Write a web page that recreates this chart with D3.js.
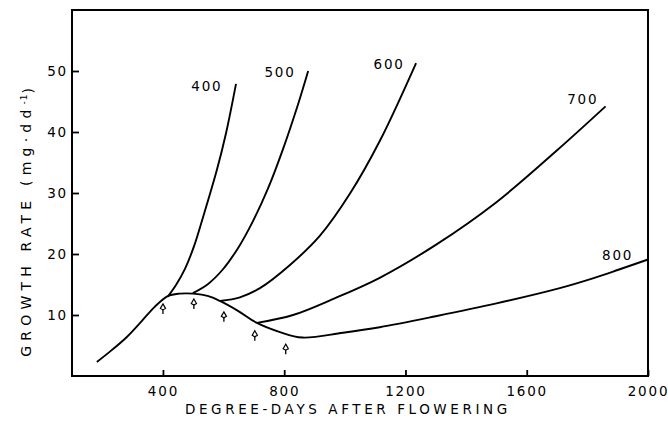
<!DOCTYPE html>
<html>
<head>
<meta charset="utf-8">
<script src="https://cdn.jsdelivr.net/npm/d3@7"></script>
<style>
  body { margin: 0; background: #fff; }
  text { font-family: "DejaVu Sans", sans-serif; fill: #000; }
  .tick text { font-size: 13.5px; letter-spacing: 1.8px; }
  .curve { fill: none; stroke: #000; stroke-width: 1.9; }
</style>
</head>
<body>
<div id="wrapper"></div>
<script>
// values (degree-days, mg.dd-1)
const baseCurve = [[182, 2.3], [230, 4.2], [281, 6.4], [330, 9.0], [372, 11.3], [416, 13.1], [455, 13.5],
  [500, 13.5], [550, 13.1], [588, 12.3], [650, 10.6], [710, 8.7], [786, 7.2], [860, 6.3], [994, 7.1],
  [1115, 8.0], [1300, 9.8], [1500, 11.9], [1709, 14.4], [1818, 16.0], [1907, 17.5], [2000, 19.1]] ;

const branch400 = [[416, 13.0], [443, 14.9], [473, 17.6], [502, 21.2], [532, 26.0], [578, 33.8], [608, 39.8], [641, 47.9]] ;
const branch500 = [[499, 13.6], [549, 15.1], [598, 17.5], [648, 21.0], [697, 25.4], [747, 30.8], [796, 37.2], [846, 44.6], [879, 50.0]] ;
const branch600 = [[588, 12.3], [654, 12.9], [720, 14.4], [819, 18.2], [918, 23.0], [1017, 29.9], [1116, 38.6], [1235, 51.3]] ;
const branch700 = [[710, 8.7], [829, 10.0], [960, 12.6], [1115, 16.1], [1300, 21.5], [1500, 28.5], [1700, 37.0], [1860, 44.2]] ;

const curveLabels = [
  {text: "400", x: 545, y: 46.7},
  {text: "500", x: 786, y: 49.0},
  {text: "600", x: 1146, y: 50.3},
  {text: "700", x: 1785, y: 44.6},
  {text: "800", x: 1900, y: 19.0}
] ;

const observed = [[400, 11.0], [502, 11.8], [601, 9.7], [703, 6.6], [805, 4.4]] ;

const xTicks = [400, 800, 1200, 1600, 2000] ;
const yTicks = [10, 20, 30, 40, 50] ;

let dimensions = {
  width: 668,
  height: 423,
  margin: {
    top: 10,
    right: 20,
    bottom: 47,
    left: 72,
  },
}
dimensions.boundedWidth = dimensions.width
  - dimensions.margin.left
  - dimensions.margin.right
dimensions.boundedHeight = dimensions.height
  - dimensions.margin.top
  - dimensions.margin.bottom

const svg = d3.select("#wrapper").append("svg")
    .attr("width", dimensions.width)
    .attr("height", dimensions.height)
;
const bounds = svg.append("g")
    .attr("transform", `translate(${dimensions.margin.left}, ${dimensions.margin.top})`)
;

const xScale = d3.scaleLinear()
  .domain([100, 2000])
  .range([0, dimensions.boundedWidth])
;
const yScale = d3.scaleLinear()
  .domain([0, 60])
  .range([dimensions.boundedHeight, 0])
;

const lineGen = d3.line()
  .x((d) => xScale(d[0]))
  .y((d) => yScale(d[1]))
  .curve(d3.curveCatmullRom.alpha(0.5))
;

// axes, ticks pointing inward
const xAxis = bounds.append("g")
  .attr("transform", `translate(0, ${dimensions.boundedHeight})`)
  .call(d3.axisBottom(xScale).tickValues(xTicks).tickFormat(d3.format("d")).tickSize(-6).tickPadding(10))
;
const yAxis = bounds.append("g")
  .call(d3.axisLeft(yScale).tickValues(yTicks).tickSize(-7).tickPadding(4))
;
bounds.selectAll(".domain").remove() ;
bounds.selectAll(".tick line").attr("stroke", "#000").attr("stroke-width", 1.8) ;
yAxis.selectAll(".tick text").attr("dy", "0.35em") ;

// frame
bounds.append("rect")
  .attr("width", dimensions.boundedWidth)
  .attr("height", dimensions.boundedHeight)
  .attr("fill", "none")
  .attr("stroke", "#000")
  .attr("stroke-width", 2)
;

// curves
[baseCurve, branch400, branch500, branch600, branch700].forEach((c) => {
  bounds.append("path")
    .attr("class", "curve")
    .attr("d", lineGen(c))
  ;
}) ;

bounds.selectAll(".curve-label")
  .data(curveLabels)
  .enter().append("text")
    .attr("class", "curve-label")
    .attr("x", (d) => xScale(d.x))
    .attr("y", (d) => yScale(d.y))
    .attr("text-anchor", "middle")
    .style("font-size", "13.5px")
    .style("letter-spacing", "1.8px")
    .text((d) => d.text)
;

// observed points: small open arrowhead on a stem
const marks = bounds.selectAll(".obs")
  .data(observed)
  .enter().append("g")
    .attr("class", "obs")
    .attr("transform", (d) => `translate(${xScale(d[0])}, ${yScale(d[1])})`)
;
marks.append("line")
  .attr("y1", -1).attr("y2", 5)
  .attr("stroke", "#000").attr("stroke-width", 1.3)
;
marks.append("path")
  .attr("d", "M0,-5 L2.6,-0.5 L0,1 L-2.6,-0.5 Z")
  .attr("fill", "#fff")
  .attr("stroke", "#000")
  .attr("stroke-width", 1.2)
;

// axis titles
svg.append("text")
  .attr("x", dimensions.margin.left + xScale(1010))
  .attr("y", 414)
  .attr("text-anchor", "middle")
  .style("font-size", "13.5px")
  .style("letter-spacing", "3.6px")
  .text("DEGREE-DAYS AFTER FLOWERING")
;

const yTitle = svg.append("text")
  .attr("transform", `translate(31, ${dimensions.margin.top + yScale(25.6)}) rotate(-90)`)
  .attr("text-anchor", "middle")
  .style("font-size", "14px")
  .style("letter-spacing", "5.2px")
;
yTitle.append("tspan").text("GROWTH RATE (mg\u00b7dd") ;
yTitle.append("tspan").attr("dy", "-0.45em").style("font-size", "9px").style("letter-spacing", "1px").text("-1") ;
yTitle.append("tspan").attr("dy", "0.45em").text(")") ;
</script>
</body>
</html>
